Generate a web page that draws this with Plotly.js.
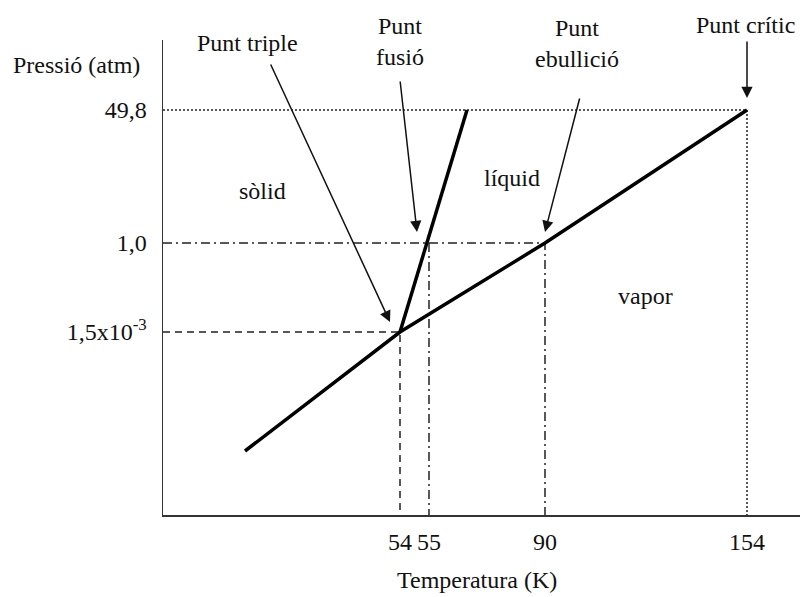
<!DOCTYPE html>
<html>
<head>
<meta charset="utf-8">
<script src="https://cdn.plot.ly/plotly-3.0.1.min.js"></script>
<style>html,body{margin:0;padding:0;background:#fff;}#chart{width:800px;height:597px;}</style>
</head>
<body>
<div id="chart"></div>
<script>
// Schematic phase diagram (positions on a schematic, non-linear axis)
const tempTickText = ['54', '55', '90', '154'];
const tempTickPos = [237, 266, 382, 584];
const pressTickText = ['1,5x10<sup>-3</sup>', '1,0', '49,8'];
const pressTickPos = [183, 272, 405];

// Curves
const vaporT = [82, 237, 382, 584];
const vaporP = [64, 183, 272, 405];
const fusionT = [237, 304];
const fusionP = [183, 405];

// Region labels
const regionText = ['sòlid', 'líquid', 'vapor'];
const regionT = [99, 349, 482];
const regionP = [324, 337, 219];

// Point labels with arrows
const pointLabels = ['Punt triple', 'Punt<br>fusió', 'Punt<br>ebullició', 'Punt crític'];
const pointLabelT = [84, 237, 414, 582];
const pointLabelP = [472, 474, 472, 490];
const arrowTailT = [107, 237, 417, 584];
const arrowTailP = [452, 435, 418, 475];
const arrowTipT = [227, 254, 382, 584];
const arrowTipP = [193, 283, 283, 417];

const FONT = 'Liberation Serif';
const guideColor = '#222';
const TOP = 475;

function guide(x, y, dash) {
  return {x: x, y: y, mode: 'lines', type: 'scatter', hoverinfo: 'skip',
          line: {color: guideColor, width: 1.5, dash: dash}, showlegend: false};
}

const triple = [tempTickPos[0], pressTickPos[0]];
const fus1 = [tempTickPos[1], pressTickPos[1]];
const boil = [tempTickPos[2], pressTickPos[1]];
const crit = [tempTickPos[3], pressTickPos[2]];

const traces = [
  guide([0, crit[0], crit[0]], [crit[1], crit[1], 0], '2px,2px'),
  guide([0, boil[0], boil[0]], [boil[1], boil[1], 0], '9px,4px,2px,4px'),
  guide([fus1[0], fus1[0]], [fus1[1], 0], '9px,4px,2px,4px'),
  guide([0, triple[0], triple[0]], [triple[1], triple[1], 0], '7px,5px'),
  {x: vaporT, y: vaporP, mode: 'lines', type: 'scatter', line: {color: '#000', width: 3.5}, showlegend: false},
  {x: fusionT, y: fusionP, mode: 'lines', type: 'scatter', line: {color: '#000', width: 3.5}, showlegend: false}
];

const tfont = {family: FONT, size: 24, color: '#111'};
const annotations = [];
regionText.forEach((t, i) => annotations.push({
  x: regionT[i], y: regionP[i], xref: 'x', yref: 'y', text: t, showarrow: false, font: tfont
}));
pointLabels.forEach((t, i) => {
  const p = pointLabelP[i];
  const a = {x: pointLabelT[i], xref: 'x', text: t, showarrow: false, font: tfont};
  if (p > TOP) { a.yref = 'paper'; a.y = 1; a.yanchor = 'middle'; a.yshift = p - TOP; }
  else { a.yref = 'y'; a.y = p; }
  annotations.push(a);
  annotations.push({
    x: arrowTipT[i], y: arrowTipP[i], xref: 'x', yref: 'y',
    ax: arrowTailT[i], ay: arrowTailP[i], axref: 'x', ayref: 'y',
    text: '', showarrow: true, arrowhead: 2, arrowsize: 1.5, arrowwidth: 1.5,
    arrowcolor: '#111', standoff: 0, startstandoff: 0
  });
});
annotations.push({
  x: 0, y: 1, xref: 'paper', yref: 'paper', xanchor: 'center', yanchor: 'middle',
  xshift: -87, yshift: -25, text: 'Pressió (atm)', showarrow: false, font: tfont
});
annotations.push({
  x: 314, y: 0, xref: 'x', yref: 'paper', yanchor: 'middle', yshift: -65,
  text: 'Temperatura (K)', showarrow: false, font: tfont
});

const layout = {
  width: 800, height: 597,
  margin: {l: 163, r: 0, t: 40, b: 82},
  paper_bgcolor: '#fff', plot_bgcolor: '#fff',
  font: {family: FONT},
  showlegend: false,
  xaxis: {
    range: [0, 637], showgrid: false, zeroline: false,
    showline: true, linecolor: '#333', linewidth: 1.5,
    tickmode: 'array', tickvals: tempTickPos, ticktext: tempTickText,
    ticks: '', ticklabelstandoff: 5,
    tickfont: tfont, fixedrange: true
  },
  yaxis: {
    range: [0, 475], showgrid: false, zeroline: false,
    showline: true, linecolor: '#333', linewidth: 1.5,
    tickmode: 'array', tickvals: pressTickPos, ticktext: pressTickText,
    ticks: '', ticklabelstandoff: 10,
    tickfont: tfont, fixedrange: true
  },
  annotations: annotations
};

Plotly.newPlot('chart', traces, layout, {displayModeBar: false, staticPlot: true});
</script>
</body>
</html>
